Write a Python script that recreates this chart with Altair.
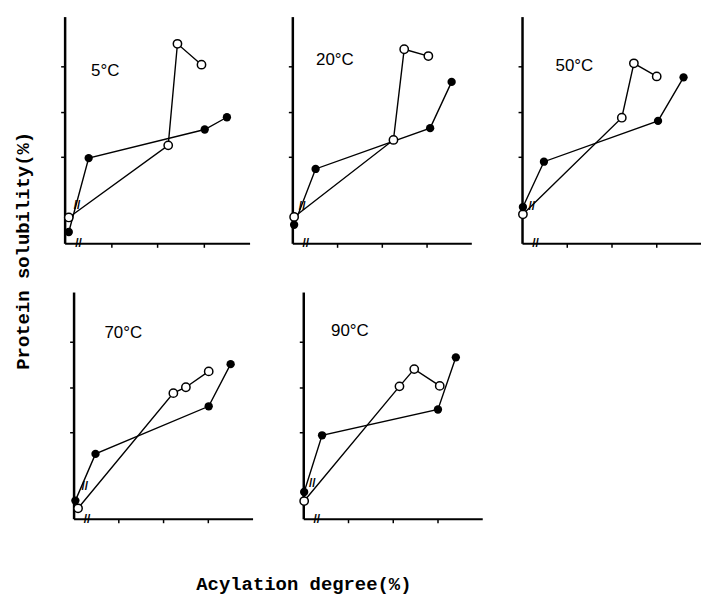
import altair as alt
import pandas as pd

temps = ["5°C", "20°C", "50°C", "70°C", "90°C"]

# open circles (one list per panel)
open_x = [
    [0.09, 2.24, 2.44, 2.96],
    [0.04, 2.26, 2.50, 3.04],
    [0.02, 2.23, 2.50, 3.01],
    [0.10, 2.23, 2.51, 3.02],
    [0.02, 2.15, 2.48, 3.05],
]
open_y = [
    [0.57, 2.16, 4.40, 3.94],
    [0.58, 2.28, 4.28, 4.13],
    [0.64, 2.77, 3.97, 3.68],
    [0.23, 2.77, 2.90, 3.25],
    [0.39, 2.92, 3.30, 2.93],
]
# filled circles
filled_x = [
    [0.09, 0.52, 3.03, 3.51],
    [0.04, 0.52, 3.08, 3.56],
    [0.02, 0.49, 3.04, 3.61],
    [0.04, 0.49, 3.02, 3.51],
    [0.02, 0.42, 3.01, 3.41],
]
filled_y = [
    [0.25, 1.88, 2.51, 2.78],
    [0.41, 1.64, 2.54, 3.56],
    [0.80, 1.80, 2.70, 3.66],
    [0.40, 1.43, 2.48, 3.41],
    [0.59, 1.84, 2.41, 3.56],
]
# panel label positions
label_x = [0.57, 0.53, 0.75, 0.69, 0.62]
label_y = [3.81, 4.04, 3.90, 4.09, 4.15]
# break marks on the lines
brk_x = [0.27, 0.22, 0.22, 0.25, 0.2]
brk_y = [0.85, 0.82, 0.82, 0.72, 0.78]

x_ticks = [1, 2, 3]
y_ticks = [1.9, 2.9, 3.9]

W, H = 180, 228


def panel(i, w=W):
    rows = []
    for k in range(4):
        rows.append({"s": "open", "k": k, "x": open_x[i][k], "y": open_y[i][k]})
    for k in range(4):
        rows.append({"s": "filled", "k": k, "x": filled_x[i][k], "y": filled_y[i][k]})
    df = pd.DataFrame(rows)
    xs = alt.Scale(domain=[0, 4], nice=False)
    ys = alt.Scale(domain=[0, 5], nice=False)
    xax = alt.Axis(values=x_ticks, labels=False, title=None, grid=False, domainColor="black",
                   domainWidth=2, tickColor="black", tickWidth=1.5, tickSize=4, minExtent=4, maxExtent=4)
    yax = alt.Axis(values=y_ticks, labels=False, title=None, grid=False, domainColor="black",
                   domainWidth=2.5, tickColor="black", tickWidth=1.5, tickSize=4,
                   minExtent=4, maxExtent=4)
    base = alt.Chart(df).encode(
        x=alt.X("x:Q", scale=xs, axis=xax),
        y=alt.Y("y:Q", scale=ys, axis=yax),
    )
    lines = base.mark_line(color="black", strokeWidth=1.4).encode(
        detail="s:N", order="k:Q")
    opn = base.transform_filter(alt.datum.s == "open").mark_point(
        shape="circle", filled=True, fill="white", stroke="black", strokeWidth=1.5,
        size=70, opacity=1)
    fil = base.transform_filter(alt.datum.s == "filled").mark_circle(
        color="black", size=70, opacity=1)
    lab = alt.Chart(pd.DataFrame({"t": [temps[i]], "x": [label_x[i]], "y": [label_y[i]]})).mark_text(
        align="left", baseline="middle", font="Liberation Sans", fontSize=17, color="black"
    ).encode(x=alt.X("x:Q", scale=xs), y=alt.Y("y:Q", scale=ys), text="t:N")
    brk = alt.Chart(pd.DataFrame({"t": ["//", "//"], "x": [brk_x[i], 0.3], "y": [brk_y[i], 0.0]})).mark_text(
        align="center", baseline="middle", font="Liberation Sans", fontSize=12, color="black",
        fontWeight="bold"
    ).encode(x=alt.X("x:Q", scale=xs), y=alt.Y("y:Q", scale=ys), text="t:N")
    return alt.layer(lines, opn, fil, lab, brk).properties(width=w, height=H)


spacer = alt.Chart(pd.DataFrame({"a": [0]})).mark_point(opacity=0).encode(
    x=alt.value(0), y=alt.value(0)).properties(width=4, height=H)

row1 = alt.hconcat(panel(0, w=186), alt.hconcat(panel(1), panel(2), spacing=44), spacing=37)
row2 = alt.hconcat(alt.hconcat(spacer, panel(3), spacing=0), panel(4), spacing=44).properties(
    title=alt.TitleParams("Acylation degree(%)", orient="bottom", anchor="middle",
                          font="Liberation Mono", fontSize=19, fontWeight="bold",
                          color="black", offset=51, dx=32)
)
chart = alt.vconcat(row1, row2, spacing=40).properties(
    title=alt.TitleParams("Protein solubility(%)", orient="left", anchor="middle",
                          font="Liberation Mono", fontSize=19, fontWeight="bold",
                          color="black", offset=27, dx=55),
    padding={"left": 14, "top": 15, "right": 0, "bottom": 0},
    background="white",
).configure_view(stroke=None)

chart.save("out.html", embed_options={"renderer": "svg", "actions": False})
